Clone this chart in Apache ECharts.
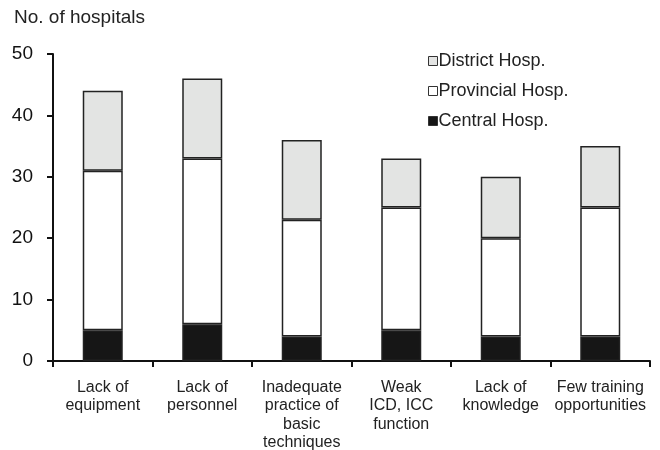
<!DOCTYPE html>
<html>
<head>
<meta charset="utf-8">
<script src="https://cdn.jsdelivr.net/npm/echarts@6/dist/echarts.min.js"></script>
<style>
  html, body { margin: 0; padding: 0; background: #fff; }
  #graphs { width: 660px; height: 450px; }
</style>
</head>
<body>
<div id="graphs"></div>
<script>
var chart = echarts.init(document.getElementById('graphs'));

var categories = ['Lack of\nequipment', 'Lack of\npersonnel', 'Inadequate\npractice of\nbasic\ntechniques',
  'Weak\nICD, ICC\nfunction', 'Lack of\nknowledge', 'Few training\nopportunities'];
var central = [5, 6, 4, 5, 4, 4];
var provincial = [26, 27, 19, 20, 16, 21];
var district = [13, 13, 13, 8, 10, 10];
var yTicks = [0, 10, 20, 30, 40, 50];

var font = '"Liberation Sans", Arial, sans-serif';
var edge = { borderColor: '#222', borderWidth: 1.5 };

var option = {
  animation: false,
  textStyle: { fontFamily: font },
  graphic: [{
    type: 'text', left: 14, top: 8,
    style: { text: 'No. of hospitals', font: '19px ' + font, fill: '#222' }
  }],
  legend: {
    orient: 'vertical',
    left: 423, top: 47,
    itemWidth: 9, itemHeight: 9, itemGap: 12,
    icon: 'rect',
    itemStyle: { borderWidth: 1, borderColor: '#333' },
    textStyle: { fontSize: 18, color: '#222', fontFamily: font, padding: [0, 0, 0, -4] },
    data: ['District Hosp.', 'Provincial Hosp.', 'Central Hosp.']
  },
  grid: { left: 53, right: 10, top: 54, bottom: 89, outerBoundsMode: 'none' },
  xAxis: {
    type: 'category',
    data: categories,
    axisLine: { lineStyle: { color: '#111', width: 2 } },
    axisTick: { show: true, length: 6, lineStyle: { color: '#111', width: 2 } },
    axisLabel: { color: '#222', fontSize: 16, lineHeight: 18.5, margin: 17, interval: 0 }
  },
  yAxis: {
    type: 'value', min: 0, max: 50, interval: 10,
    axisLine: { show: true, lineStyle: { color: '#111', width: 2 } },
    axisTick: { show: true, inside: false, length: 6, lineStyle: { color: '#111', width: 2 } },
    splitLine: { show: false },
    axisLabel: {
      margin: 20,
      formatter: function (v) { return yTicks.indexOf(v) >= 0 ? String(v) : ''; },
      color: '#111', fontSize: 19
    }
  },
  series: [
    { name: 'Central Hosp.', type: 'bar', stack: 'a', barWidth: 40, data: central,
      itemStyle: Object.assign({ color: '#161616' }, edge) },
    { name: 'Provincial Hosp.', type: 'bar', stack: 'a', barWidth: 40, data: provincial,
      itemStyle: Object.assign({ color: '#ffffff' }, edge) },
    { name: 'District Hosp.', type: 'bar', stack: 'a', barWidth: 40, data: district,
      itemStyle: Object.assign({ color: '#e3e4e3' }, edge) }
  ]
};

chart.setOption(option);
</script>
</body>
</html>
